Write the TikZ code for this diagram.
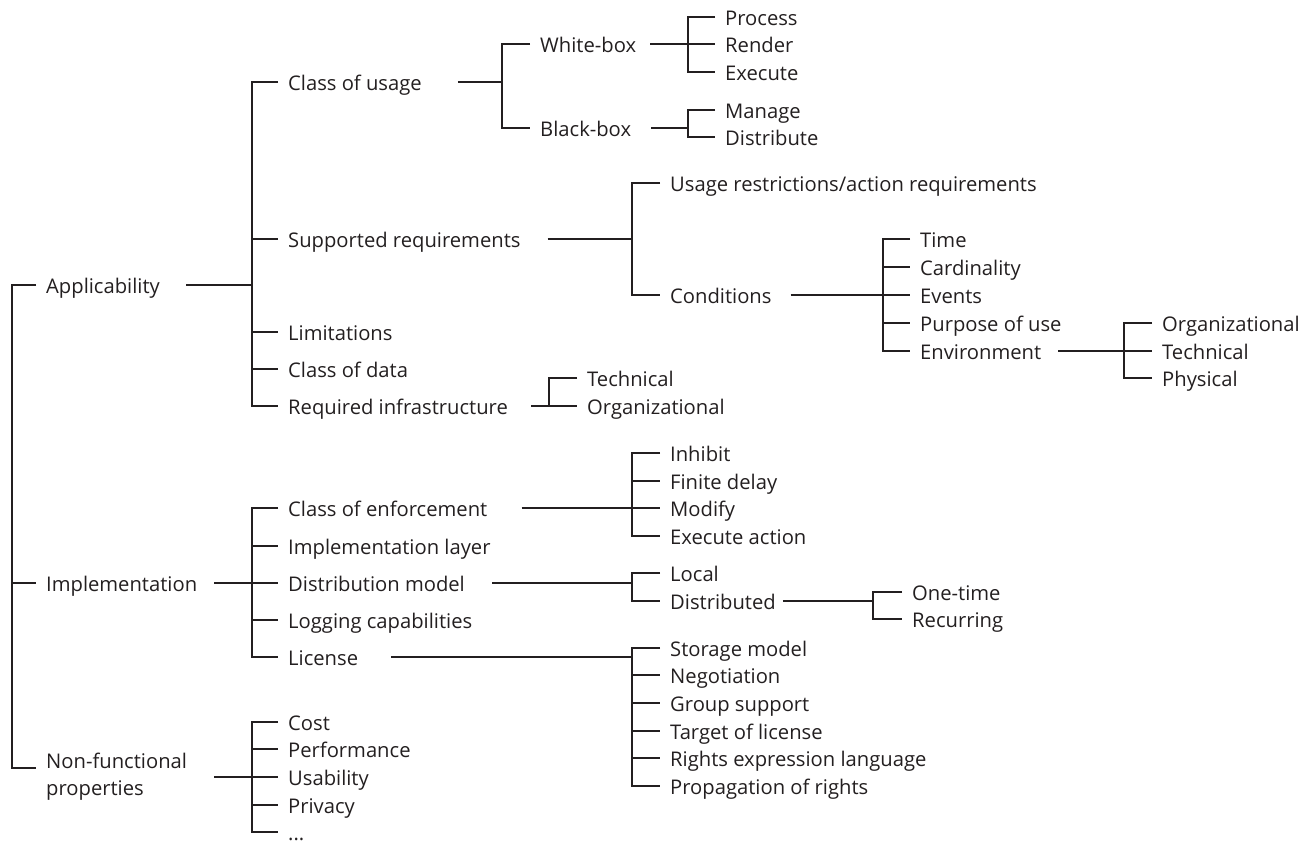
\documentclass[tikz,border=0pt]{standalone}
\usepackage{fontspec}
\setmainfont{Open Sans}
\definecolor{ink}{HTML}{231F20}
\tikzset{
  item/.style={anchor=west, inner xsep=10pt, inner ysep=0pt, text height=20.6pt, text depth=3pt,
    font=\fontsize{20.2}{27}\selectfont, text=ink},
  branch/.style={line width=1.15pt, draw=ink},
}

\begin{document}
\begin{tikzpicture}[x=1pt,y=-1pt]
  \useasboundingbox (0,0) rectangle (1313,844);

  % top level
  \coordinate (root) at (12,285);
  \node[item] (appl) at (36,285) {Applicability};
  \node[item] (impl) at (36,583) {Implementation};
  \node[item,anchor=base west] (nonfunc) at (36,768)
    {\begin{tabular}[t]{@{}l@{}}Non-functional\\properties\end{tabular}};
  \draw[branch] (appl.west) -| (root |- nonfunc.base west) -- (nonfunc.base west);
  \draw[branch] (root |- impl) -- (impl.west);

  % applicability
  \coordinate (bappl) at (252,285);
  \node[item] (usage) at (278,82) {Class of usage};
  \node[item] (suppreq) at (278,239) {Supported requirements};
  \node[item] (limit) at (278,332) {Limitations};
  \node[item] (cdata) at (278,369) {Class of data};
  \node[item] (infra) at (278,406) {Required infrastructure};
  \draw[branch,shorten <=16pt] (appl) -- (bappl);
  \draw[branch] (usage.west) -| (bappl |- infra) -- (infra.west);
  \foreach \c in {suppreq,limit,cdata} \draw[branch] (bappl |- \c) -- (\c.west);

  % class of usage
  \coordinate (busage) at (502,82);
  \node[item] (white) at (530,44) {White-box};
  \node[item] (black) at (530,128) {Black-box};
  \draw[branch,shorten <=26pt] (usage) -- (busage);
  \draw[branch] (white.west) -| (busage |- black) -- (black.west);

  \coordinate (bwhite) at (688,44);
  \node[item] (process) at (715,17) {Process};
  \node[item] (render) at (715,44) {Render};
  \node[item] (execute) at (715,72) {Execute};
  \draw[branch,shorten <=4pt] (white) -- (bwhite);
  \draw[branch] (process.west) -| (bwhite |- execute) -- (execute.west);
  \draw[branch] (bwhite |- render) -- (render.west);

  \coordinate (bblack) at (688,128);
  \node[item] (manage) at (715,110) {Manage};
  \node[item] (distribute) at (715,137) {Distribute};
  \draw[branch,shorten <=10pt] (black) -- (bblack);
  \draw[branch] (manage.west) -| (bblack |- distribute) -- (distribute.west);

  % supported requirements
  \coordinate (bsupp) at (632,239);
  \node[item] (restrict) at (660,183) {Usage restrictions/action requirements};
  \node[item] (cond) at (660,295) {Conditions};
  \draw[branch,shorten <=17pt] (suppreq) -- (bsupp);
  \draw[branch] (restrict.west) -| (bsupp |- cond) -- (cond.west);

  \coordinate (bcond) at (883,295);
  \node[item] (time) at (910,239) {Time};
  \node[item] (card) at (910,267) {Cardinality};
  \node[item] (events) at (910,295) {Events};
  \node[item] (purpose) at (910,323) {Purpose of use};
  \node[item] (env) at (910,351) {Environment};
  \draw[branch,shorten <=9pt] (cond) -- (bcond);
  \draw[branch] (time.west) -| (bcond |- env) -- (env.west);
  \foreach \c in {card,events,purpose} \draw[branch] (bcond |- \c) -- (\c.west);

  \coordinate (benv) at (1124,351);
  \node[item] (envorg) at (1152,323) {Organizational};
  \node[item] (envtech) at (1152,351) {Technical};
  \node[item] (envphys) at (1152,378) {Physical};
  \draw[branch,shorten <=7pt] (env) -- (benv);
  \draw[branch] (envorg.west) -| (benv |- envphys) -- (envphys.west);
  \draw[branch] (benv |- envtech) -- (envtech.west);

  % required infrastructure
  \coordinate (binfra) at (549,406);
  \node[item] (infratech) at (577,378) {Technical};
  \node[item] (infraorg) at (577,406) {Organizational};
  \draw[branch,shorten <=13pt] (infra) -- (binfra);
  \draw[branch] (infratech.west) -| (binfra |- infraorg) -- (infraorg.west);

  % implementation
  \coordinate (bimpl) at (252,583);
  \node[item] (enforce) at (278,508) {Class of enforcement};
  \node[item] (layer) at (278,546) {Implementation layer};
  \node[item] (distmodel) at (278,583) {Distribution model};
  \node[item] (logging) at (278,620) {Logging capabilities};
  \node[item] (license) at (278,657) {License};
  \draw[branch,shorten <=7pt] (impl) -- (bimpl);
  \draw[branch] (enforce.west) -| (bimpl |- license) -- (license.west);
  \foreach \c in {layer,distmodel,logging} \draw[branch] (bimpl |- \c) -- (\c.west);

  % class of enforcement
  \coordinate (benf) at (632,508);
  \node[item] (inhibit) at (660,453) {Inhibit};
  \node[item] (finite) at (660,481) {Finite delay};
  \node[item] (modify) at (660,508) {Modify};
  \node[item] (execact) at (660,536) {Execute action};
  \draw[branch,shorten <=24pt] (enforce) -- (benf);
  \draw[branch] (inhibit.west) -| (benf |- execact) -- (execact.west);
  \foreach \c in {finite,modify} \draw[branch] (benf |- \c) -- (\c.west);

  % distribution model
  \coordinate (bdist) at (632,583);
  \node[item] (local) at (660,573) {Local};
  \node[item] (distrib) at (660,601) {Distributed};
  \draw[branch,shorten <=17pt] (distmodel) -- (bdist);
  \draw[branch] (local.west) -| (bdist |- distrib) -- (distrib.west);

  \coordinate (bdistrib) at (873,601);
  \node[item] (onetime) at (902,592) {One-time};
  \node[item] (recurring) at (902,619) {Recurring};
  \draw[branch,shorten <=-3pt] (distrib) -- (bdistrib);
  \draw[branch] (onetime.west) -| (bdistrib |- recurring) -- (recurring.west);

  % license
  \coordinate (blic) at (632,657);
  \node[item] (storage) at (660,648) {Storage model};
  \node[item] (nego) at (660,675) {Negotiation};
  \node[item] (group) at (660,703) {Group support};
  \node[item] (target) at (660,731) {Target of license};
  \node[item] (rights) at (660,758) {Rights expression language};
  \node[item] (propag) at (660,786) {Propagation of rights};
  \draw[branch,shorten <=23pt] (license) -- (blic);
  \draw[branch] (storage.west) -| (blic |- propag) -- (propag.west);
  \foreach \c in {nego,group,target,rights} \draw[branch] (blic |- \c) -- (\c.west);

  % non-functional properties
  \coordinate (bnonf) at (252,777);
  \node[item] (cost) at (278,722) {Cost};
  \node[item] (perf) at (278,749) {Performance};
  \node[item] (usab) at (278,777) {Usability};
  \node[item] (priv) at (278,805) {Privacy};
  \node[item] (more) at (278,832) {...};
  \draw[branch,shorten <=17pt] (nonfunc.east |- bnonf) -- (bnonf);
  \draw[branch] (cost.west) -| (bnonf |- more) -- (more.west);
  \foreach \c in {perf,usab,priv} \draw[branch] (bnonf |- \c) -- (\c.west);
\end{tikzpicture}
\end{document}
